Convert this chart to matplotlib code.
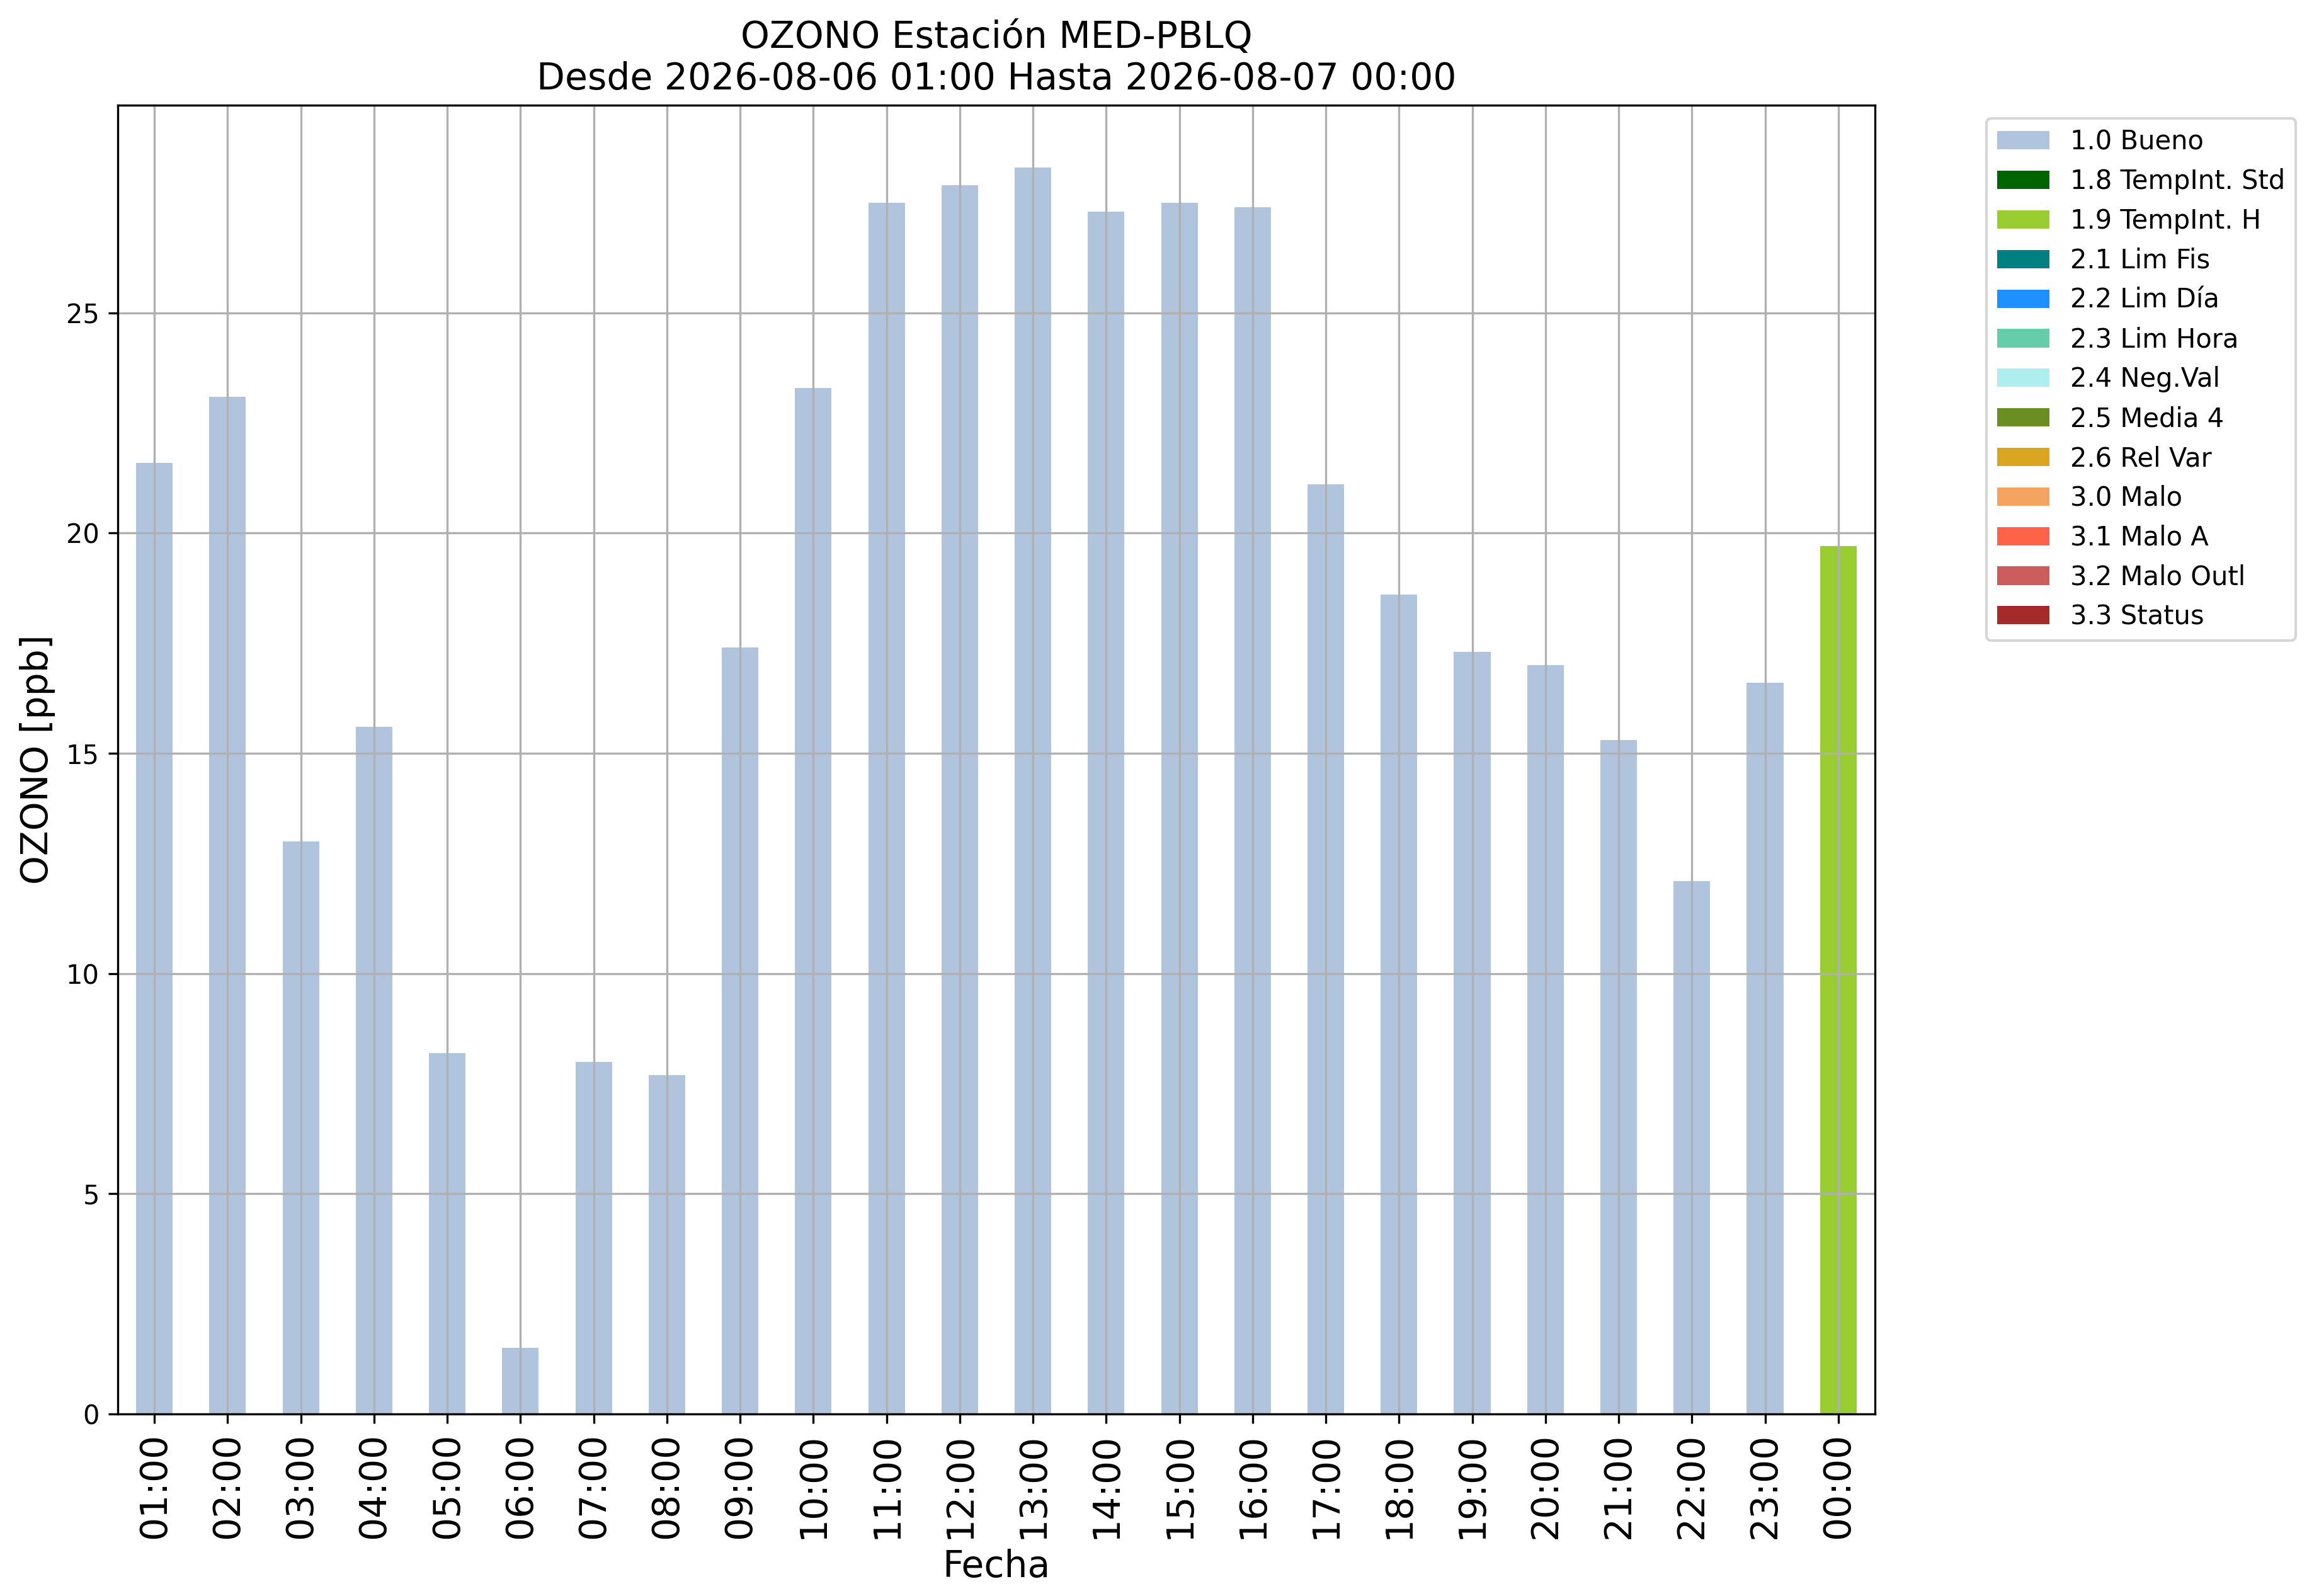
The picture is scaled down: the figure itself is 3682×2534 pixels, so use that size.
import numpy as np
import matplotlib
matplotlib.use("Agg")
import matplotlib.pyplot as plt

# Hourly ozone values and their validation flags
horas = ["01:00", "02:00", "03:00", "04:00", "05:00", "06:00", "07:00", "08:00",
         "09:00", "10:00", "11:00", "12:00", "13:00", "14:00", "15:00", "16:00",
         "17:00", "18:00", "19:00", "20:00", "21:00", "22:00", "23:00", "00:00"]
ozono = [21.6, 23.1, 13.0, 15.6, 8.2, 1.5, 8.0, 7.7,
         17.4, 23.3, 27.5, 27.9, 28.3, 27.3, 27.5, 27.4,
         21.1, 18.6, 17.3, 17.0, 15.3, 12.1, 16.6, 19.7]
banderas = ["1.0"] * 23 + ["1.9"]

# Flag categories shown in the legend
codigos = ["1.0", "1.8", "1.9", "2.1", "2.2", "2.3", "2.4", "2.5", "2.6",
           "3.0", "3.1", "3.2", "3.3"]
nombres = ["Bueno", "TempInt. Std", "TempInt. H", "Lim Fis", "Lim Día",
           "Lim Hora", "Neg.Val", "Media 4", "Rel Var", "Malo", "Malo A",
           "Malo Outl", "Status"]
colores = ["lightsteelblue", "darkgreen", "yellowgreen", "teal", "dodgerblue",
           "mediumaquamarine", "paleturquoise", "olivedrab", "goldenrod",
           "sandybrown", "tomato", "indianred", "brown"]

fig = plt.figure(figsize=(3682 / 300, 2534 / 300), dpi=300)
ax = fig.add_subplot(111)
fig.subplots_adjust(left=0.0508, right=0.8085, top=0.9341, bottom=0.1140)

x = np.arange(len(horas))
vals = np.array(ozono)
flags = np.array(banderas)
for cod, nom, col in zip(codigos, nombres, colores):
    ax.bar(x, np.where(flags == cod, vals, 0.0), width=0.5, color=col,
           label=f"{cod} {nom}")

ax.set_xlim(-0.5, len(horas) - 0.5)
ax.set_xticks(x)
ax.set_xticklabels(horas, rotation=90, fontsize=14)
ax.tick_params(axis="y", labelsize=10)
ax.grid(True)

ax.set_xlabel("Fecha", fontsize=14)
ax.set_ylabel("OZONO [ppb]", fontsize=14)
ax.set_title("OZONO Estación MED-PBLQ\nDesde 2026-08-06 01:00 Hasta 2026-08-07 00:00",
             fontsize=14)

ax.legend(loc="upper left", bbox_to_anchor=(1.056, 1), fontsize=10)

fig.savefig("out.png", dpi=300)
